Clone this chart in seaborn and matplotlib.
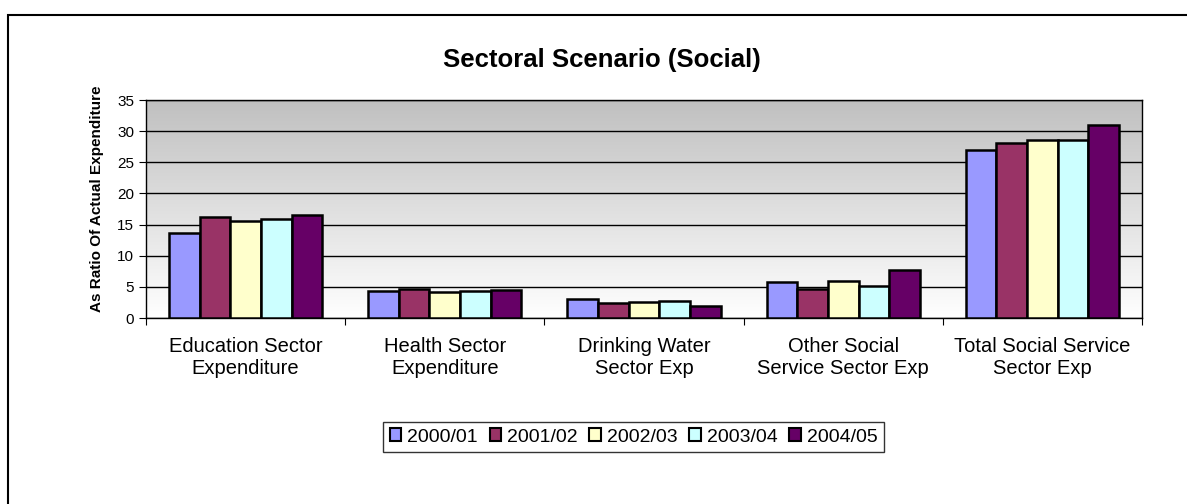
import numpy as np
import pandas as pd
import matplotlib
matplotlib.use("Agg")
import matplotlib.pyplot as plt
import seaborn as sns

# ==============================
# Data
# ==============================
categories = [
    "Education Sector\nExpenditure",
    "Health Sector\nExpenditure",
    "Drinking Water\nSector Exp",
    "Other Social\nService Sector Exp",
    "Total Social Service\nSector Exp",
]
years = ["2000/01", "2001/02", "2002/03", "2003/04", "2004/05"]
y2000 = [13.7, 4.3, 3.0, 5.7, 27.0]
y2001 = [16.2, 4.7, 2.35, 4.65, 28.1]
y2002 = [15.6, 4.2, 2.55, 5.9, 28.5]
y2003 = [15.9, 4.3, 2.8, 5.1, 28.5]
y2004 = [16.6, 4.5, 1.9, 7.7, 31.0]
colors = ["#9999FF", "#993366", "#FFFFCC", "#CCFFFF", "#660066"]

df = pd.DataFrame({"Sector": categories * 5,
                   "Year": np.repeat(years, 5),
                   "Value": y2000 + y2001 + y2002 + y2003 + y2004})

# ==============================
# Plot
# ==============================
sns.set_style("white")
plt.rcParams["font.family"] = ["Liberation Sans", "DejaVu Sans"]
plt.rcParams["text.color"] = "black"
plt.rcParams["xtick.color"] = "black"
plt.rcParams["ytick.color"] = "black"
plt.rcParams["axes.labelcolor"] = "black"

fig = plt.figure(figsize=(11.87, 5.04), dpi=100)
ax = fig.add_axes([146 / 1187, 1 - 318 / 504, 996 / 1187, 218 / 504])

# outer chart frame
fig.patches.append(plt.Rectangle((8 / 1187, -0.1), 1.2, 1 - 15 / 504 + 0.1,
                                 transform=fig.transFigure, fill=False,
                                 edgecolor="black", linewidth=1.5, zorder=0))

sns.barplot(data=df, x="Sector", y="Value", hue="Year", palette=colors,
            width=0.77, gap=0, edgecolor="black", linewidth=1.8,
            saturation=1, ax=ax, zorder=3)

# gradient background
grad = np.linspace(0, 1, 256).reshape(-1, 1)
ax.imshow(grad, cmap=matplotlib.colors.LinearSegmentedColormap.from_list(
    "g", ["#ffffff", "#c0c0c0"]), aspect="auto", origin="lower",
    extent=(-0.5, 4.5, 0, 35), zorder=0)

ax.set_xlim(-0.5, 4.5)
ax.set_ylim(0, 35)
ax.set_yticks(range(0, 36, 5))
ax.yaxis.grid(True, color="black", linewidth=1)
ax.set_axisbelow(True)
for s in ax.spines.values():
    s.set_color("black")
    s.set_linewidth(1)

ax.set_xticks(np.arange(-0.5, 5, 1))
ax.set_xticklabels([])
ax.set_xticks(range(5), minor=True)
ax.set_xticklabels(categories, minor=True, fontsize=14.5)
ax.tick_params(axis="x", which="major", length=5, direction="out", bottom=True)
ax.tick_params(axis="x", which="minor", length=0, pad=14)
ax.tick_params(axis="y", length=5, direction="out", left=True, labelsize=11)
ax.set_xlabel("")
ax.set_ylabel("As Ratio Of Actual Expenditure", fontsize=11, fontweight="bold")
ax.yaxis.set_label_coords(-42 / 996, 0.545)

fig.text(602 / 1187, 1 - 60 / 504, "Sectoral Scenario (Social)",
         ha="center", va="center", fontsize=18.5, fontweight="bold")

ax.legend_.remove()
handles = [plt.Rectangle((0, 0), 1, 1, facecolor=c, edgecolor="black", linewidth=1.5)
           for c in colors]
fig.legend(handles, years, loc="center left", bbox_to_anchor=(383 / 1187, 1 - 437 / 504),
           ncol=5, frameon=True, fancybox=False, edgecolor="black", fontsize=14,
           handlelength=0.6, handleheight=0.6, handletextpad=0.3, columnspacing=0.6,
           borderpad=0.35, borderaxespad=0)

fig.savefig("out.png", dpi=100)
